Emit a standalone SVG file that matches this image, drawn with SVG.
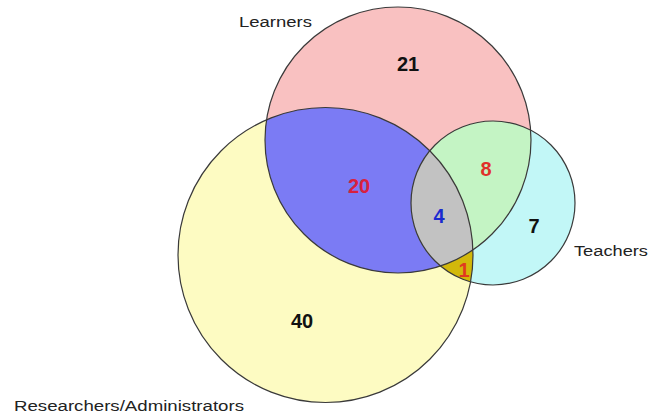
<svg xmlns="http://www.w3.org/2000/svg" width="650" height="416" viewBox="0 0 650 416">
<style>
.lbl{font-family:"Liberation Sans",Arial,sans-serif;font-size:15.5px;fill:#222}
.num{font-family:"Liberation Sans",Arial,sans-serif;font-size:20px;font-weight:bold;text-anchor:middle}
.edge{fill:none;stroke:#3a3a3a;stroke-width:1.2}
</style>
<defs>
<clipPath id="cR"><circle cx="325.5" cy="255" r="147.5"/></clipPath>
<clipPath id="cT"><circle cx="493" cy="203" r="82"/></clipPath>
<clipPath id="cL"><circle cx="398" cy="140" r="133"/></clipPath>
</defs>
<rect width="650" height="416" fill="#ffffff"/>
<g id="researchers">
<circle cx="325.5" cy="255" r="147.5" fill="#fdfbc2"/>
</g>
<g id="teachers">
<circle cx="493" cy="203" r="82" fill="#c2f7f7"/>
</g>
<g id="learners">
<circle cx="398" cy="140" r="133" fill="#f9c1c1"/>
</g>
<g id="learners-researchers" clip-path="url(#cR)">
<circle cx="398" cy="140" r="133" fill="#7b7bf4"/>
</g>
<g id="learners-teachers" clip-path="url(#cT)">
<circle cx="398" cy="140" r="133" fill="#c4f4c4"/>
</g>
<g id="researchers-teachers" clip-path="url(#cT)">
<circle cx="325.5" cy="255" r="147.5" fill="#d2b80a"/>
</g>
<g id="all-three" clip-path="url(#cT)">
<g clip-path="url(#cR)">
<circle cx="398" cy="140" r="133" fill="#c2c2c2"/>
</g>
</g>
<g id="outlines">
<circle class="edge" cx="325.5" cy="255" r="147.5"/>
<circle class="edge" cx="493" cy="203" r="82"/>
<circle class="edge" cx="398" cy="140" r="133"/>
</g>
<g id="labels">
<text class="lbl" x="239" y="27" textLength="73" lengthAdjust="spacingAndGlyphs">Learners</text>
<text class="lbl" x="574" y="256" textLength="74" lengthAdjust="spacingAndGlyphs">Teachers</text>
<text class="lbl" x="14" y="411" textLength="230" lengthAdjust="spacingAndGlyphs">Researchers/Administrators</text>
<text class="num" x="408" y="71" fill="#111">21</text>
<text class="num" x="359" y="193" fill="#d8203e">20</text>
<text class="num" x="486" y="176" fill="#e0302a">8</text>
<text class="num" x="439" y="223" fill="#1a2ad0">4</text>
<text class="num" x="534" y="233" fill="#111">7</text>
<text class="num" x="464" y="277" fill="#e03a20">1</text>
<text class="num" x="302" y="328" fill="#111">40</text>
</g>
</svg>
